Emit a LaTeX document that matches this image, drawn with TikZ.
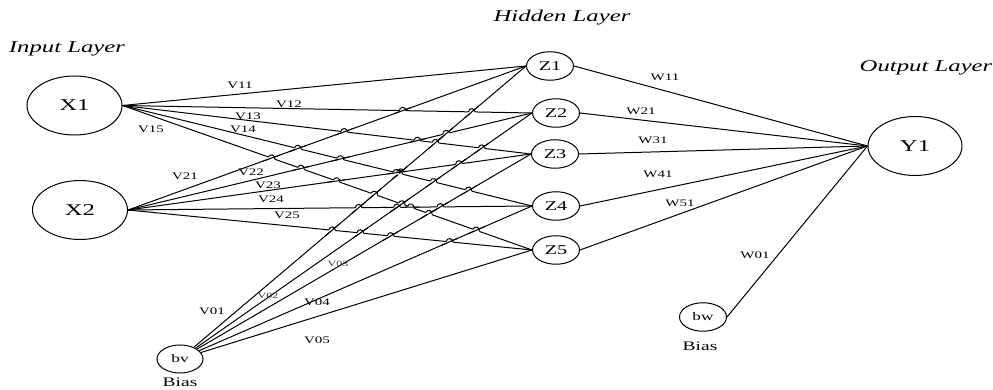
\documentclass[tikz,border=0pt]{standalone}
\usepackage{fontspec}
\setmainfont{Liberation Serif}[FakeStretch=1.5]
\usetikzlibrary{shapes.geometric,intersections,calc}
\newcommand\hopover[6]{%
  \path[name intersections={of=#1 and #2, by={hp}}];
  \draw[white, line width=2.6pt] let \p1=(#3), \p2=(#4), \n1={atan2(\y2-\y1,\x2-\x1)} in
    ($(hp)+(\n1+180:3.3pt)$) -- ($(hp)+(\n1:3.3pt)$);
  \draw[conn] let \p1=(#5), \p2=(#6), \n1={atan2(\y2-\y1,\x2-\x1)} in
    ($(hp)+(\n1+180:9pt)$) -- ($(hp)+(\n1:9pt)$);
  \draw[conn] let \p1=(#3), \p2=(#4), \n1={atan2(\y2-\y1,\x2-\x1)} in
    ($(hp)+(\n1+180:3.3pt)$) arc[start angle=\n1+180, delta angle=-180, radius=3.3pt];
}
\begin{document}
\begin{tikzpicture}[x=1pt,y=1pt,
  every node/.style={inner sep=0pt},
  conn/.style={line width=1pt},
  neuron/.style={draw, ellipse, line width=1pt},
  big/.style={neuron, minimum width=95pt, minimum height=59pt, font=\fontsize{16.5}{18}\selectfont},
  hid/.style={neuron, minimum width=47pt, minimum height=28.5pt, font=\fontsize{13.5}{15}\selectfont},
  biasn/.style={neuron, minimum width=47pt, minimum height=28.5pt, font=\fontsize{11.5}{13}\selectfont},
  wlab/.style={font=\fontsize{10}{12}\selectfont},
  slab/.style={font=\fontsize{8}{9}\selectfont, text=black!80},
  blab/.style={font=\fontsize{13}{15}\selectfont},
  ttl/.style={font=\fontsize{16.5}{18}\selectfont\itshape},
]
\useasboundingbox (0,0) rectangle (993,390);

% nodes
\node[big] (X1) at (74.5,284.5) {X1};
\node[big] (X2) at (80,180) {X2};
\node[biasn, minimum width=46pt, minimum height=28pt] (bv) at (180,31) {bv};
\node[hid] (Z1) at (550,324) {Z1};
\node[hid] (Z2) at (556,277) {Z2};
\node[hid] (Z3) at (555,236) {Z3};
\node[hid] (Z4) at (556,184) {Z4};
\node[hid] (Z5) at (556,140) {Z5};
\node[big, minimum width=94pt] (Y1) at (915,244) {Y1};
\node[biasn] (bw) at (703,73) {bw};

% titles
\node[ttl] (tin) at (67,341) {Input Layer};
\node[ttl] (thid) at (562,372) {Hidden Layer};
\node[ttl] (tout) at (926,322) {Output Layer};
\node[blab] (bias1) at (180,8) {Bias};
\node[blab] (bias2) at (700,44) {Bias};

% input -> hidden
\foreach \i in {1,...,5}{
  \draw[conn, name path global=c\i] (bv) -- (Z\i.west);
}
\foreach \i in {1,...,5}{
  \draw[conn, name path global=b\i] (X2.east) -- (Z\i.west);
}
\foreach \i in {1,...,5}{
  \draw[conn, name path global=a\i] (X1.east) -- (Z\i.west);
}

% line hops
\foreach \i in {2,...,5}{
  \pgfmathtruncatemacro\jm{\i-1}
  \foreach \j in {1,...,\jm}{
    \hopover{b\i}{c\j}{X2.east}{Z\i.west}{bv.center}{Z\j.west}
  }
}
\foreach \i in {2,...,5}{
  \pgfmathtruncatemacro\jm{\i-1}
  \foreach \j in {1,...,\jm}{
    \hopover{a\i}{b\j}{X1.east}{Z\i.west}{X2.east}{Z\j.west}
    \hopover{a\i}{c\j}{X1.east}{Z\i.west}{bv.center}{Z\j.west}
  }
}

% hidden -> output
\foreach \i in {1,...,5}{
  \draw[conn] (Z\i.east) -- (Y1.west);
}
\draw[conn] (bw.east) -- (Y1.west);

% weight labels
\node[wlab] (v11) at (240,305) {V11};
\node[wlab] (v12) at (289,286) {V12};
\node[wlab] (v13) at (248,274) {V13};
\node[wlab] (v14) at (243,261) {V14};
\node[wlab] (v15) at (151,261) {V15};
\node[wlab] (v21) at (185,214) {V21};
\node[wlab] (v22) at (251,218) {V22};
\node[wlab] (v23) at (268,205) {V23};
\node[wlab] (v24) at (271,191) {V24};
\node[wlab] (v25) at (287,175) {V25};
\node[wlab] (v01) at (212,79) {V01};
\node[slab] (v02) at (268,94) {V02};
\node[slab] (v03) at (338,126) {V03};
\node[wlab] (v04) at (317,88) {V04};
\node[wlab] (v05) at (317,50) {V05};
\node[wlab] (w11) at (665,313) {W11};
\node[wlab] (w21) at (641,279) {W21};
\node[wlab] (w31) at (653,250) {W31};
\node[wlab] (w41) at (658,216) {W41};
\node[wlab] (w51) at (680,187) {W51};
\node[wlab] (w01) at (755,135) {W01};
\end{tikzpicture}
\end{document}
